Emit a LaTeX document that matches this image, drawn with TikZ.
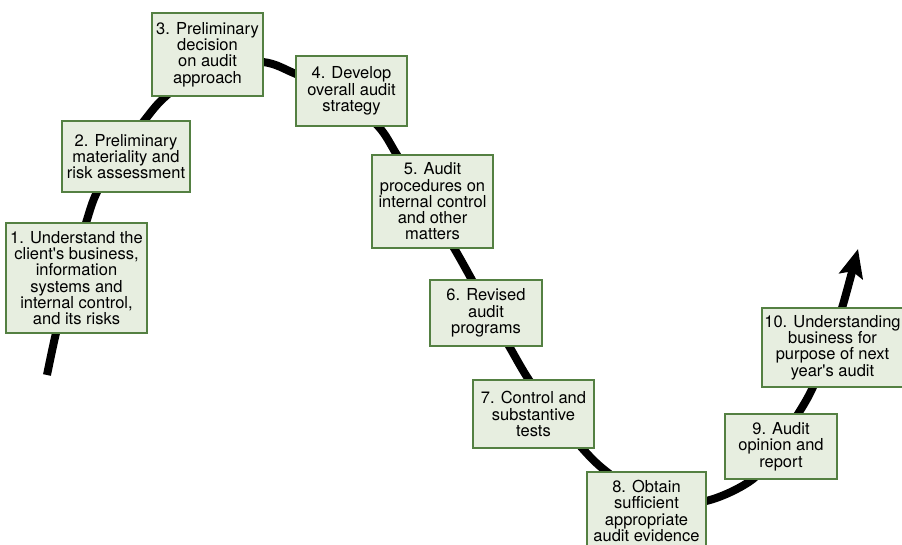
\documentclass[tikz,border=0pt]{standalone}
\usepackage{fontspec}
\setmainfont{TeX Gyre Heros}
\usetikzlibrary{arrows.meta,backgrounds}

\definecolor{boxfill}{RGB}{231,238,224}
\definecolor{boxline}{RGB}{84,128,66}

\tikzset{
  stepbox/.style={draw=boxline, fill=boxfill, line width=1.3pt, align=center,
    inner sep=0pt, font=\fontsize{16.5}{16.3}\selectfont},
  flowline/.style={line width=8pt, black,
    -{Stealth[length=28pt,width=24pt,inset=5pt]}}
}

\begin{document}
\begin{tikzpicture}[x=1pt,y=-1pt]
\useasboundingbox (0,0) rectangle (902,545);

% the ten stages of the audit process
\node[stepbox, minimum width=141pt, minimum height=110pt] (s1) at (76.5,278)
  {1. Understand the\\client\textquotesingle s business,\\information\\systems and\\internal control,\\and its risks};
\node[stepbox, minimum width=128pt, minimum height=71pt] (s2) at (126,156.5)
  {2. Preliminary\\materiality and\\risk assessment};
\node[stepbox, minimum width=111pt, minimum height=83pt] (s3) at (207.5,54.5)
  {3. Preliminary\\decision\\on audit\\approach};
\node[stepbox, minimum width=111pt, minimum height=70pt] (s4) at (351.5,91)
  {4. Develop\\overall audit\\strategy};
\node[stepbox, minimum width=121pt, minimum height=93pt] (s5) at (432.5,201.5)
  {5. Audit\\procedures on\\internal control\\and other\\matters};
\node[stepbox, minimum width=112pt, minimum height=66pt] (s6) at (486,313)
  {6. Revised\\audit\\programs};
\node[stepbox, minimum width=121pt, minimum height=68pt] (s7) at (533.5,414)
  {7. Control and\\substantive\\tests};
\node[stepbox, minimum width=119pt, minimum height=78pt] (s8) at (646.5,511)
  {8. Obtain\\sufficient\\appropriate\\audit evidence};
\node[stepbox, minimum width=112pt, minimum height=65pt] (s9) at (781,446.5)
  {9. Audit\\opinion and\\report};
\node[stepbox, minimum width=141pt, minimum height=79pt] (s10) at (832.5,347.5)
  {10. Understanding\\business for\\purpose of next\\year\textquotesingle s audit};

% waypoints of the wave running behind the stages
\coordinate (w0) at (47,375);
\coordinate (w1) at (56,333);
\coordinate (w2) at (70,278);
\coordinate (w3) at (86,223);
\coordinate (w4) at (97,192);
\coordinate (w5) at (119,155);
\coordinate (w6) at (144,121);
\coordinate (w7) at (166,96);
\coordinate (w8) at (209,64);
\coordinate (w9) at (263,62);
\coordinate (w10) at (296,74);
\coordinate (w11) at (340,93);
\coordinate (w12) at (378,126);
\coordinate (w13) at (397,155);
\coordinate (w14) at (425,200);
\coordinate (w15) at (454,248);
\coordinate (w16) at (472,280);
\coordinate (w17) at (490,313);
\coordinate (w18) at (509,346);
\coordinate (w19) at (529,380);
\coordinate (w20) at (554,413);
\coordinate (w21) at (582,448);
\coordinate (w22) at (607,472);
\coordinate (w23) at (652,502);
\coordinate (w24) at (706,501);
\coordinate (w25) at (753,479);
\coordinate (w26) at (776,447);
\coordinate (w27) at (798,414);
\coordinate (w28) at (813,387);
\coordinate (w29) at (828,347);
\coordinate (w30) at (842,308);
\coordinate (w31) at (858,249);

\begin{scope}[on background layer]
  \draw[flowline] plot[smooth, tension=0.55] coordinates {
    (w0) (w1) (w2) (w3) (w4) (w5) (w6) (w7) (w8) (w9) (w10) (w11) (w12)
    (w13) (w14) (w15) (w16) (w17) (w18) (w19) (w20) (w21) (w22) (w23)
    (w24) (w25) (w26) (w27) (w28) (w29) (w30) (w31)};
\end{scope}
\end{tikzpicture}
\end{document}
